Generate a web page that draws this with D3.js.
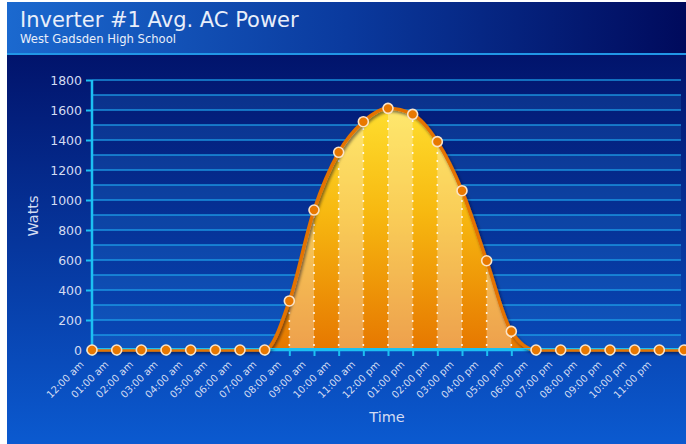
<!DOCTYPE html>
<html>
<head>
<meta charset="utf-8">
<script src="https://cdn.jsdelivr.net/npm/d3@7/dist/d3.min.js"></script>
<style>
  html, body { margin: 0; padding: 0; background: #ffffff; }
  svg { display: block; }
  text { font-family: "DejaVu Sans", sans-serif; }
</style>
</head>
<body>
<svg id="chart" width="686" height="444"></svg>
<script>
// ---- data ----
const timeLabels = ["12:00 am","01:00 am","02:00 am","03:00 am","04:00 am","05:00 am","06:00 am","07:00 am",
  "08:00 am","09:00 am","10:00 am","11:00 am","12:00 pm","01:00 pm","02:00 pm","03:00 pm",
  "04:00 pm","05:00 pm","06:00 pm","07:00 pm","08:00 pm","09:00 pm","10:00 pm","11:00 pm"];
// hourly average AC power (last value = following midnight, cut at the right edge)
const watts = [0,0,0,0,0,0,0,0,327,933,1318,1522,1611,1571,1389,1062,595,124,0,0,0,0,0,0,0];
const yTicks = [0,200,400,600,800,1000,1200,1400,1600,1800];
const gridValues = d3.range(0, 1900, 100);
const titleText = "Inverter #1 Avg. AC Power";
const subtitleText = "West Gadsden High School";
const xTitle = "Time";
const yTitle = "Watts";

const svg = d3.select("#chart");
const W = 686, H = 444;
const ox = 7, oy = 2;

const defs = svg.append("defs");
const hg = defs.append("linearGradient").attr("id","hdr").attr("x1","0").attr("x2","1").attr("y1","0").attr("y2","0");
hg.append("stop").attr("offset","0").attr("stop-color","#1b69cf");
hg.append("stop").attr("offset","0.5").attr("stop-color","#0a3a9e");
hg.append("stop").attr("offset","1").attr("stop-color","#000a5c");
const bg = defs.append("linearGradient").attr("id","bodyg").attr("x1","0").attr("x2","0").attr("y1","0").attr("y2","1");
bg.append("stop").attr("offset","0").attr("stop-color","#000a5e");
bg.append("stop").attr("offset","1").attr("stop-color","#0b5ad0");

const x = d3.scaleLinear().domain([0, 24]).range([92, 684]);
const y = d3.scaleLinear().domain([0, 1800]).range([350, 80]);

const ag = defs.append("linearGradient").attr("id","areag").attr("gradientUnits","userSpaceOnUse")
  .attr("x1",0).attr("x2",0).attr("y1",y(1650)).attr("y2",y(0));
ag.append("stop").attr("offset","0").attr("stop-color","#ffe030");
ag.append("stop").attr("offset","0.45").attr("stop-color","#f7b810");
ag.append("stop").attr("offset","1").attr("stop-color","#e67700");

const sh = defs.append("filter").attr("id","shadow").attr("x","-10%").attr("y","-10%").attr("width","130%").attr("height","130%");
sh.append("feDropShadow").attr("dx",1.5).attr("dy",2).attr("stdDeviation",1.5)
  .attr("flood-color","#000020").attr("flood-opacity",0.55);

// frame
svg.append("rect").attr("x",ox).attr("y",oy).attr("width",W-ox).attr("height",H-oy).attr("fill","url(#bodyg)");
svg.append("rect").attr("x",ox).attr("y",oy).attr("width",W-ox).attr("height",51).attr("fill","url(#hdr)");
svg.append("rect").attr("x",ox).attr("y",53).attr("width",W-ox).attr("height",2).attr("fill","#2196e6");

svg.append("text").attr("x",20).attr("y",27).attr("font-size",21).attr("fill","#e8eefa").text(titleText);
svg.append("text").attr("x",20).attr("y",43).attr("font-size",11.6).attr("fill","#e8eefa").text(subtitleText);

// plot bands
const plot = svg.append("g");
for (let i = 0; i < gridValues.length - 1; i++) {
  if (i % 2 === 0) {
    plot.append("rect").attr("x", x(0)).attr("width", x(24) - x(0) - 3)
      .attr("y", y(gridValues[i+1])).attr("height", y(gridValues[i]) - y(gridValues[i+1]))
      .attr("fill", "#2a84dc").attr("fill-opacity", 0.22);
  }
}
plot.selectAll("line.grid").data(gridValues).join("line").attr("class","grid")
  .attr("x1", x(0)).attr("x2", x(24) - 3).attr("y1", d => y(d)).attr("y2", d => y(d))
  .attr("stroke", "#1fa2ea").attr("stroke-width", 1.5).attr("stroke-opacity", 0.85);

// area
const curve = d3.curveMonotoneX;
const area = d3.area().x((d,i) => x(i)).y0(y(0)).y1(d => y(d)).curve(curve);
const line = d3.line().x((d,i) => x(i)).y(d => y(d)).curve(curve);

defs.append("clipPath").attr("id","areaclip").append("path").attr("d", area(watts));

const areaG = svg.append("g");
areaG.append("path").attr("d", area(watts)).attr("fill","url(#areag)");
const stripes = areaG.append("g").attr("clip-path","url(#areaclip)");
stripes.selectAll("rect").data(d3.range(0, 24, 2)).join("rect")
  .attr("x", d => x(d)).attr("width", d => x(d+1) - x(d))
  .attr("y", y(1800)).attr("height", y(0) - y(1800))
  .attr("fill", "#ffffff").attr("fill-opacity", 0.3);
stripes.selectAll("line").data(d3.range(0, 25)).join("line")
  .attr("x1", d => x(d)).attr("x2", d => x(d)).attr("y1", y(1800)).attr("y2", y(0))
  .attr("stroke", "#ffffff").attr("stroke-width", 1.6).attr("stroke-dasharray", "2,6").attr("stroke-opacity", 0.9);

// x axis
const xAxis = d3.axisBottom(x).tickValues(d3.range(0, 24)).tickSize(6).tickFormat(d => timeLabels[d]);
const xg = svg.append("g").attr("transform", `translate(0,${y(0)})`).call(xAxis);
xg.select(".domain").attr("stroke","#1cc0f2").attr("stroke-width",2.5).attr("d", `M${x(0)},0H${x(24)}`);
xg.selectAll(".tick line").attr("stroke","#1cc0f2").attr("stroke-width",2);
xg.selectAll(".tick text")
  .attr("font-family","DejaVu Sans, sans-serif").attr("font-size",10).attr("fill","#d3dcf2")
  .attr("text-anchor","end").attr("y",null).attr("dy",null)
  .attr("transform","translate(-8,15) rotate(-45)");

// y axis
const yAxis = d3.axisLeft(y).tickValues(yTicks).tickSize(6).tickPadding(4).tickFormat(d3.format("d"));
const yg = svg.append("g").attr("transform", `translate(${x(0)},0)`).call(yAxis);
yg.select(".domain").attr("stroke","#1cc0f2").attr("stroke-width",2.5).attr("d", `M0,${y(1800)}V${y(0)}`);
yg.selectAll(".tick line").attr("stroke","#1cc0f2").attr("stroke-width",2);
yg.selectAll(".tick text").attr("font-family","DejaVu Sans, sans-serif").attr("font-size",12.5).attr("fill","#d3dcf2");

// line + dots
svg.append("path").attr("d", line(watts)).attr("fill","none").attr("stroke","#e47300")
  .attr("stroke-width",3.5).attr("filter","url(#shadow)");
// thin cyan axis highlight on top of the zero segment
svg.append("line").attr("x1", x(0)).attr("x2", x(24)).attr("y1", y(0) - 1.3).attr("y2", y(0) - 1.3)
  .attr("stroke", "#1cc0f2").attr("stroke-width", 1.3);
svg.append("g").selectAll("circle").data(watts).join("circle")
  .attr("cx", (d,i) => x(i)).attr("cy", d => y(d)).attr("r", 5)
  .attr("fill","#e87800").attr("stroke","#fbe4c8").attr("stroke-width",1.6);

// axis titles
svg.append("text").attr("x",387).attr("y",422).attr("text-anchor","middle").attr("font-size",14.5)
  .attr("fill","#d3dcf2").text(xTitle);
svg.append("text").attr("transform","translate(38,216) rotate(-90)").attr("text-anchor","middle")
  .attr("font-size",14.5).attr("fill","#d3dcf2").text(yTitle);
</script>
</body>
</html>
